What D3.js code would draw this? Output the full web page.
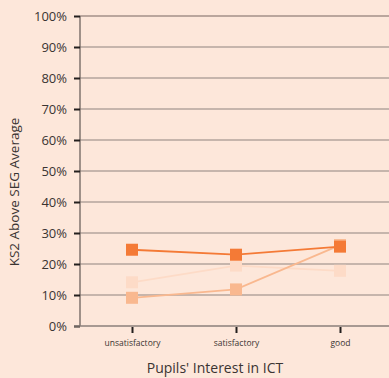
<!DOCTYPE html>
<html><head><meta charset="utf-8">
<script src="https://cdn.jsdelivr.net/npm/d3@7"></script>
<style>
html,body{margin:0;padding:0;background:#fde7da;}
svg{display:block;}
text{font-family:"Open Sans","Noto Sans",sans-serif;fill:#3a3432;}
</style></head>
<body><svg id="c" width="389" height="378"></svg>
<script>
const categories = ["unsatisfactory","satisfactory","good"];
const seriesFaint = [14.1, 19.5, 17.8];
const seriesLight = [9.1, 11.8, 26.1];
const seriesDark = [24.6, 23.0, 25.6];
const yTicks = [0,10,20,30,40,50,60,70,80,90,100];
const xTitle = "Pupils' Interest in ICT";
const yTitle = "KS2 Above SEG Average";

const svg = d3.select("#c");
svg.append("rect").attr("width",389).attr("height",378).attr("fill","#fde7da");

const x = d3.scalePoint().domain(categories).range([80,392]).padding(0.5);
const y = d3.scaleLinear().domain([0,100]).range([326,16]);

// gridlines
svg.append("g").selectAll("line").data(yTicks.filter(d=>d>0)).join("line")
  .attr("x1",80).attr("x2",389)
  .attr("y1",d=>y(d)).attr("y2",d=>y(d))
  .attr("stroke",d=>d===100?"#a39088":"#b3a49c").attr("stroke-width",1.4);

// y axis
const yAxis = d3.axisLeft(y).tickValues(yTicks).tickFormat(d=>d+"%").tickSize(6).tickPadding(7);
const gy = svg.append("g").attr("transform","translate(80,0)").call(yAxis);
gy.select(".domain").attr("stroke","#6d625e").attr("stroke-width",1.3).attr("d","M0,16V326");
gy.selectAll(".tick line").attr("stroke","#231f1e").attr("stroke-width",2);
gy.selectAll(".tick text").attr("font-size",13).style("fill","#3a3432");

// x axis
const xAxis = d3.axisBottom(x).tickSize(7).tickPadding(7);
const gx = svg.append("g").attr("transform","translate(0,326)").call(xAxis);
gx.select(".domain").attr("stroke","#8a7f7a").attr("stroke-width",1.4).attr("d","M74,0H389");
gx.selectAll(".tick line").attr("stroke","#231f1e").attr("stroke-width",2).attr("y1",1);
gx.selectAll(".tick text").attr("font-size",8.5).style("fill","#3a3432");

// titles
svg.append("text").attr("x",215).attr("y",373).attr("text-anchor","middle")
  .attr("font-size",14).text(xTitle);
svg.append("text").attr("transform","translate(19,192) rotate(-90)").attr("text-anchor","middle")
  .attr("font-size",13.5).text(yTitle);

const line = d3.line().x((d,i)=>x(categories[i])).y(d=>y(d));
const seriesList = [
  {vals:seriesFaint, color:"#fddbc7"},
  {vals:seriesLight, color:"#f9b88f"},
  {vals:seriesDark, color:"#f47a36"}
];
seriesList.forEach(s=>{
  const g = svg.append("g");
  g.append("path").datum(s.vals).attr("d",line).attr("fill","none")
    .attr("stroke",s.color).attr("stroke-width",1.8);
  g.selectAll("rect").data(s.vals).join("rect")
    .attr("x",(d,i)=>x(categories[i])-6).attr("y",d=>y(d)-6)
    .attr("width",12).attr("height",12).attr("fill",s.color);
});
</script></body></html>
